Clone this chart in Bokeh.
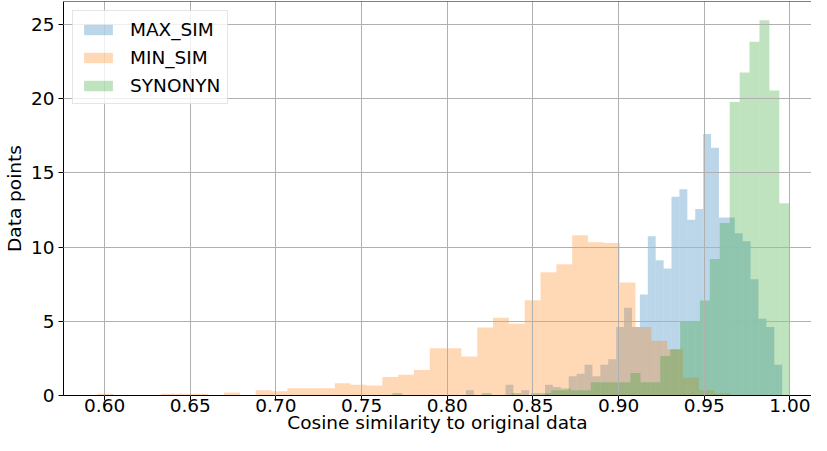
import numpy as np
from bokeh.plotting import figure
from bokeh.models import Range1d, FixedTicker, PrintfTickFormatter, Span
from bokeh.embed import file_html
from bokeh.resources import INLINE

# ---------------- data ----------------
series_names = ["MAX_SIM", "MIN_SIM", "SYNONYN"]

# histogram ranges (first bin left edge, last bin right edge), 40 bins each
max_sim_range = (0.8109, 0.9955)
min_sim_range = (0.5958, 0.9653)
synonyn_range = (0.7680, 0.9996)

# bin heights (density) per series
max_sim_density = [0.36, 0, 0, 0, 0, 0.73, 0, 0.36, 0, 0,
                   0.73, 0.58, 0.36, 1.29, 1.47, 2.07, 1.29, 2.07, 2.44, 4.62,
                   5.91, 4.62, 6.80, 10.73, 9.11, 8.55, 13.40, 13.90, 11.84, 12.57,
                   17.62, 16.69, 12.00, 12.00, 10.93, 10.40, 7.84, 5.18, 4.62, 2.07]
min_sim_density = [0.11, 0, 0, 0, 0.11, 0.11, 0.11, 0, 0.20, 0,
                   0.35, 0.28, 0.49, 0.49, 0.49, 0.83, 0.73, 0.67, 1.24, 1.40,
                   1.71, 3.18, 3.18, 2.62, 4.58, 5.24, 4.84, 6.42, 8.30, 8.84,
                   10.80, 10.33, 10.27, 7.62, 4.62, 3.69, 3.11, 1.22, 0.35, 0.15]
synonyn_density = [0.17, 0, 0, 0, 0, 0, 0, 0, 0, 0.17,
                   0, 0, 0.17, 0, 0.17, 0.17, 0.35, 0.47, 0.35, 0.35,
                   0.89, 0.89, 0.89, 0.89, 1.51, 0.89, 0.89, 2.67, 3.11, 4.95,
                   5.00, 6.40, 9.20, 11.62, 19.77, 21.77, 23.84, 25.29, 20.55, 12.95]

x_ticks = [0.60, 0.65, 0.70, 0.75, 0.80, 0.85, 0.90, 0.95, 1.00]
y_ticks = [0, 5, 10, 15, 20, 25]
x_label = "Cosine similarity to original data"
y_label = "Data points"

# ---------------- styles ----------------
colors = ["#1f77b4", "#ff7f0e", "#2ca02c"]
FONT = "DejaVu Sans"
FS = "18.5px"
Y_TOP = 26.55

p = figure(width=811, height=435, output_backend="svg", toolbar_location=None,
           x_range=Range1d(0.5760, 1.0126), y_range=Range1d(0, Y_TOP),
           min_border_left=57, min_border_right=0, min_border_top=1,
           min_border_bottom=30)
p.outline_line_color = None
p.background_fill_color = "white"
p.border_fill_color = "white"

series = [(max_sim_range, max_sim_density),
          (min_sim_range, min_sim_density),
          (synonyn_range, synonyn_density)]
for (rng, dens), name, col in zip(series, series_names, colors):
    edges = np.linspace(rng[0], rng[1], len(dens) + 1)
    p.quad(left=edges[:-1], right=edges[1:], bottom=0, top=dens,
           fill_color=col, fill_alpha=0.3, line_color=None, legend_label=name)

# axes
for ax in (p.xaxis[0], p.yaxis[0]):
    ax.major_tick_in = 0
    ax.major_tick_out = 5
    ax.minor_tick_in = 0
    ax.minor_tick_out = 0
    ax.axis_line_color = "black"
    ax.major_tick_line_color = "black"
    ax.major_label_text_font = FONT
    ax.major_label_text_font_size = FS
    ax.major_label_text_color = "black"
    ax.axis_label_text_font = FONT
    ax.axis_label_text_font_size = FS
    ax.axis_label_text_font_style = "normal"
    ax.axis_label_text_color = "black"

p.xaxis.ticker = FixedTicker(ticks=x_ticks)
p.xaxis.formatter = PrintfTickFormatter(format="%.2f")
p.yaxis.ticker = FixedTicker(ticks=y_ticks)
p.xaxis.axis_label = x_label
p.yaxis.axis_label = y_label
p.xaxis.major_label_standoff = -2
p.xaxis.axis_label_standoff = -3
p.yaxis.major_label_standoff = 4
p.yaxis.axis_label_standoff = 3

# grid over bars
p.grid.grid_line_color = "#b0b0b0"
p.grid.grid_line_width = 1
p.grid.level = "guide"

# top spine
p.add_layout(Span(location=Y_TOP, dimension="width", line_color="black", line_width=1))

# legend
lg = p.legend[0]
lg.location = "top_left"
lg.margin = 9
lg.padding = 7
lg.spacing = 6
lg.label_height = 22
lg.glyph_height = 13
lg.glyph_width = 36
lg.label_standoff = 14
lg.label_text_font = FONT
lg.label_text_font_size = FS
lg.label_text_color = "black"
lg.border_line_color = "#cccccc"
lg.border_line_width = 1
lg.background_fill_alpha = 0.8

open("out.html", "w").write(file_html(p, INLINE))
